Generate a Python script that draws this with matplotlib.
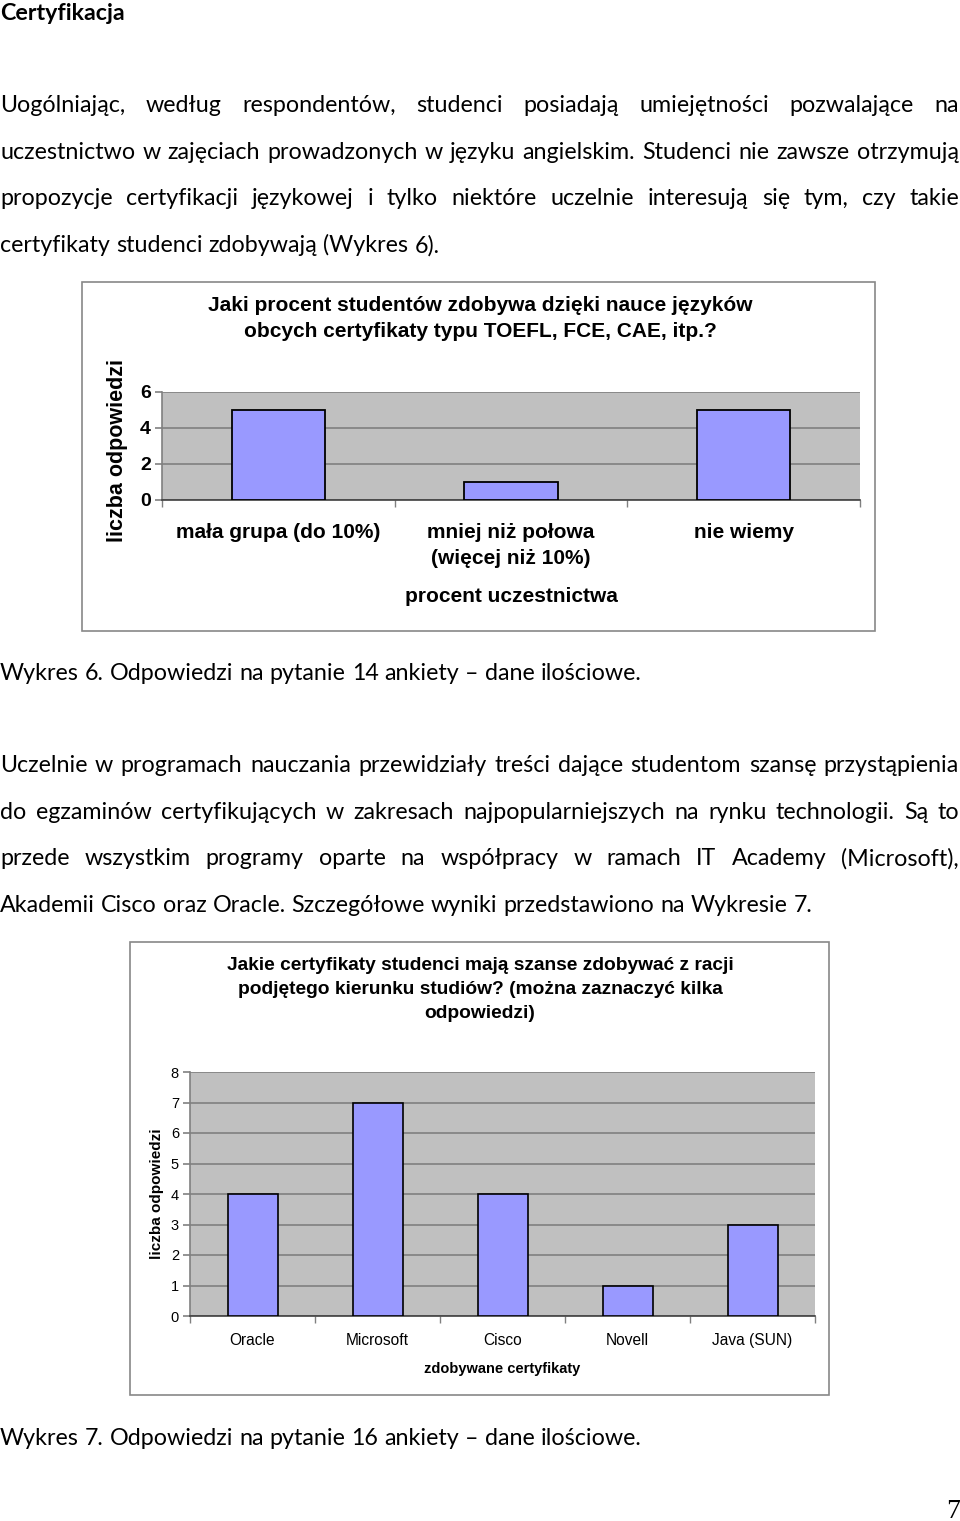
import matplotlib
matplotlib.use('Agg')
import matplotlib.pyplot as plt
from matplotlib.patches import Rectangle

# chart data
cats1 = ['mała grupa (do 10%)', 'mniej niż połowa\n(więcej niż 10%)', 'nie wiemy']
vals1 = [5, 1, 5]
title1 = 'Jaki procent studentów zdobywa dzięki nauce języków\nobcych certyfikaty typu TOEFL, FCE, CAE, itp.?'
xlab1 = 'procent uczestnictwa'

cats2 = ['Oracle', 'Microsoft', 'Cisco', 'Novell', 'Java (SUN)']
vals2 = [4, 7, 4, 1, 3]
title2 = 'Jakie certyfikaty studenci mają szanse zdobywać z racji\npodjętego kierunku studiów? (można zaznaczyć kilka\nodpowiedzi)'
xlab2 = 'zdobywane certyfikaty'
ylab = 'liczba odpowiedzi'

# page text
heading = 'Certyfikacja'
para1 = ['Uogólniając, według respondentów, studenci posiadają umiejętności pozwalające na',
         'uczestnictwo w zajęciach prowadzonych w języku angielskim. Studenci nie zawsze otrzymują',
         'propozycje certyfikacji językowej i tylko niektóre uczelnie interesują się tym, czy takie',
         'certyfikaty studenci zdobywają (Wykres 6).']
caption1 = 'Wykres 6. Odpowiedzi na pytanie 14 ankiety – dane ilościowe.'
para2 = ['Uczelnie w programach nauczania przewidziały treści dające studentom szansę przystąpienia',
         'do egzaminów certyfikujących w zakresach najpopularniejszych na rynku technologii. Są to',
         'przede wszystkim programy oparte na współpracy w ramach IT Academy (Microsoft),',
         'Akademii Cisco oraz Oracle. Szczegółowe wyniki przedstawiono na Wykresie 7.']
caption2 = 'Wykres 7. Odpowiedzi na pytanie 16 ankiety – dane ilościowe.'

W, H = 960, 1521
fig = plt.figure(figsize=(9.6, 15.21), dpi=100)
fig.patch.set_facecolor('white')
rend = fig.canvas.get_renderer()

def fx(x):
    return x / W

def fy(y):
    return 1 - y / H

BODY = ['Lato', 'DejaVu Sans']
CH = 'Liberation Sans'
BAR = '#9999FF'
PLOT_BG = '#C0C0C0'
GRID = '#808080'

def width_of(s, **kw):
    t = fig.text(0, 0, s, **kw)
    w = t.get_window_extent(renderer=rend).width
    t.remove()
    return w

# fit body font size to the known width of the last line of paragraph 2
base = width_of(para2[-1], family=BODY, fontsize=10)
fs_body = 10 * 810 / base

def put_line(line, y, justify, fs=fs_body, weight='normal'):
    words = line.split(' ')
    ws = [width_of(w, family=BODY, fontsize=fs, weight=weight) for w in words]
    if justify and len(words) > 1:
        gap = (W - 1 - sum(ws)) / (len(words) - 1)
    else:
        gap = width_of('a a', family=BODY, fontsize=fs) - 2 * width_of('a', family=BODY, fontsize=fs)
    x = 0
    for w, wd in zip(words, ws):
        fig.text(fx(x), fy(y), w, family=BODY, fontsize=fs, weight=weight, va='baseline', ha='left')
        x += wd + gap

put_line(heading, 20, False, fs=fs_body, weight='bold')

for i, line in enumerate(para1):
    put_line(line, 112 + i * 46.7, i < len(para1) - 1)
put_line(caption1, 680, False)
for i, line in enumerate(para2):
    put_line(line, 772 + i * 46.7, i < len(para2) - 1)
put_line(caption2, 1445, False)

fig.text(fx(960), fy(1518), '7', family='Liberation Serif', fontsize=20, ha='right', va='baseline')

# chart frames
for (x0, y0, x1, y1) in [(82, 282, 875, 631), (130, 942, 829, 1395)]:
    fig.add_artist(Rectangle((fx(x0), fy(y1)), fx(x1) - fx(x0), fy(y0) - fy(y1),
                             transform=fig.transFigure, fill=False, ec='#888888', lw=1.2))

def style_axes(ax, n, ymax, ystep, tick_fs, weight):
    ax.set_facecolor(PLOT_BG)
    ax.set_xlim(-0.5, n - 0.5)
    ax.set_ylim(0, ymax)
    ax.set_yticks(range(0, ymax + 1, ystep))
    ax.yaxis.grid(True, color=GRID, lw=1.2)
    ax.set_axisbelow(True)
    for s in ['top', 'right']:
        ax.spines[s].set_visible(False)
    ax.spines['left'].set_color(GRID)
    ax.spines['bottom'].set_color('#404040')
    ax.spines['left'].set_linewidth(1.2)
    ax.spines['bottom'].set_linewidth(1.2)
    ax.set_xticks([i - 0.5 for i in range(n + 1)], minor=True)
    ax.tick_params(axis='x', which='minor', length=5, color=GRID, width=1)
    ax.tick_params(axis='x', which='major', length=0)
    ax.tick_params(axis='y', length=5, color=GRID, width=1.2, labelsize=tick_fs, pad=3)
    for lab in ax.get_yticklabels():
        lab.set_family(CH)
        lab.set_weight(weight)

# chart 1
ax1 = fig.add_axes([fx(162), fy(500), (860 - 162) / W, (500 - 392) / H])
x1 = range(len(cats1))
ax1.bar(x1, vals1, width=0.4, color=BAR, edgecolor='black', lw=1.3, zorder=3)
style_axes(ax1, len(cats1), 6, 2, 14, 'bold')
ax1.set_xticks(list(x1))
ax1.set_xticklabels(cats1, family=CH, fontsize=15, weight='bold', linespacing=1.45)
ax1.tick_params(axis='x', which='major', pad=16.5)
ax1.set_xlabel(xlab1, family=CH, fontsize=15, weight='bold', labelpad=14)
fig.text(fx(480), fy(318.5), title1, family=CH, fontsize=15, weight='bold',
         ha='center', va='center', linespacing=1.47)
fig.text(fx(118), fy(450), ylab, family=CH, fontsize=15.5, weight='bold',
         rotation=90, ha='center', va='center')

# chart 2
ax2 = fig.add_axes([fx(190), fy(1316), (815 - 190) / W, (1316 - 1072) / H])
x2 = range(len(cats2))
ax2.bar(x2, vals2, width=0.4, color=BAR, edgecolor='black', lw=1.2, zorder=3)
style_axes(ax2, len(cats2), 8, 1, 10.5, 'normal')
ax2.set_xticks(list(x2))
ax2.set_xticklabels(cats2, family=CH, fontsize=11.2)
ax2.tick_params(axis='x', which='major', pad=12)
ax2.set_xlabel(xlab2, family=CH, fontsize=10.5, weight='bold', labelpad=10)
fig.text(fx(480), fy(989.5), title2, family=CH, fontsize=13.8, weight='bold',
         ha='center', va='center', linespacing=1.55)
fig.text(fx(157), fy(1194), ylab, family=CH, fontsize=11, weight='bold',
         rotation=90, ha='center', va='center')

fig.savefig('out.png', dpi=100, facecolor='white')
